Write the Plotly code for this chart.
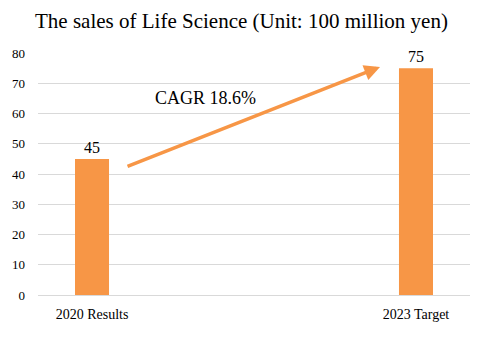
import plotly.graph_objects as go

categories = ["2020 Results", "2023 Target"]
sales = [45, 75]
y_ticks = [0, 10, 20, 30, 40, 50, 60, 70, 80]
cagr_label = "CAGR 18.6%"

orange = "#F79646"
font_family = "Liberation Serif"

x_pos = list(range(len(categories)))

fig = go.Figure()
fig.add_trace(go.Bar(
    x=x_pos, y=sales, width=0.105,
    marker=dict(color=orange, line=dict(width=0)),
    text=[str(v) for v in sales], textposition="outside",
    textfont=dict(family=font_family, size=16, color="#000000"),
    cliponaxis=False,
))

# growth arrow from the first bar toward the target bar
fig.add_annotation(
    x=0.889, y=75.4, ax=0.105, ay=42.3,
    xref="x", yref="y", axref="x", ayref="y",
    showarrow=True, arrowhead=2, arrowsize=0.9, arrowwidth=3.5,
    arrowcolor=orange, text="",
)
fig.add_annotation(
    x=0.35, y=65.2, xref="x", yref="y", text=cagr_label, showarrow=False,
    font=dict(family=font_family, size=18, color="#000000"),
)

fig.update_layout(
    width=483, height=337,
    margin=dict(l=38, r=13, t=53, b=42),
    paper_bgcolor="white", plot_bgcolor="white",
    showlegend=False,
    title=dict(text="The sales of Life Science (Unit: 100 million yen)",
               x=0.5, xanchor="center", y=0.94, yanchor="middle",
               font=dict(family=font_family, size=21, color="#000000")),
    font=dict(family=font_family, color="#000000"),
)
fig.update_xaxes(
    range=[-0.1667, 1.1667], tickmode="array", tickvals=x_pos, ticktext=categories,
    showgrid=False, zeroline=False, showline=True, linecolor="#D9D9D9", linewidth=1,
    ticks="", tickfont=dict(family=font_family, size=14, color="#000000"),
    ticklabelstandoff=6,
)
fig.update_yaxes(
    range=[0, 80], tickmode="array", tickvals=y_ticks,
    showgrid=True, gridcolor="#D9D9D9", gridwidth=1, zeroline=False, showline=False,
    ticks="", tickfont=dict(family=font_family, size=13, color="#000000"),
    ticklabelstandoff=12,
)

fig.write_html("out.html")
